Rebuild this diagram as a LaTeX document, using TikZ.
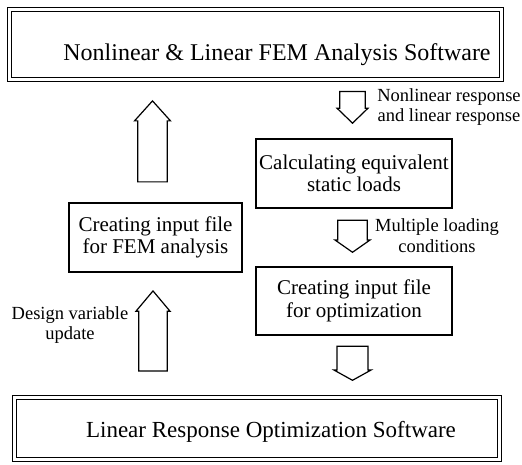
\documentclass[tikz,border=0pt]{standalone}
\usepackage{fontspec}
\setmainfont{Liberation Serif}
\usetikzlibrary{shapes.arrows}

\tikzset{
  softbox/.style={draw, double, double distance=2.4pt, line width=1.3pt, inner sep=0pt},
  stepbox/.style={draw, line width=1.3pt, align=center, inner sep=0pt,
    font=\fontsize{21}{22.5}\selectfont},
  note/.style={align=center, font=\fontsize{18.5}{20.5}\selectfont},
  blockarrow/.style={single arrow, draw, line width=1.2pt, inner sep=#1,
    single arrow head extend=2pt, anchor=tip},
  blockarrow/.default=9pt
}

\begin{document}
\begin{tikzpicture}[x=1pt,y=-1pt]
    \useasboundingbox (0,0) rectangle (522,465);

    % Riquadri dei software
    \node[softbox, minimum width=492pt, minimum height=70pt, text height=36pt, text depth=3pt,
      font=\fontsize{24}{28}\selectfont] (fem) at (255.5,44.5)
      {\hspace*{43pt}Nonlinear \& Linear FEM Analysis Software};
    \node[softbox, minimum width=485pt, minimum height=62pt, text height=20pt, text depth=1.6pt,
      font=\fontsize{23}{27}\selectfont] (lro) at (257,428.5)
      {\hspace*{28pt}Linear Response Optimization Software};

    % Passi intermedi
    \node[stepbox, minimum width=196pt, minimum height=69pt] (esl) at (354,173.5) {Calculating equivalent\\static loads};
    \node[stepbox, minimum width=173pt, minimum height=69pt] (feminput) at (155.5,237.5) {Creating input file\\for FEM analysis};
    \node[stepbox, minimum width=196pt, minimum height=68pt] (optinput) at (354,301) {Creating input file\\for optimization};

    % Frecce a blocco (posizionate sulla punta)
    \node[blockarrow=8.5pt, minimum height=81pt, minimum width=36pt, single arrow tip angle=84,
      shape border rotate=90] (upfem) at (152.5,100) {};
    \node[blockarrow=9.5pt, minimum height=80pt, minimum width=34pt, single arrow tip angle=80,
      shape border rotate=90] (upvar) at (153,290) {};
    \node[blockarrow=9pt, minimum height=30pt, minimum width=31pt, single arrow tip angle=92,
      shape border rotate=270] (downresp) at (352.5,124) {};
    \node[blockarrow=10pt, minimum height=32pt, minimum width=35pt, single arrow tip angle=110,
      shape border rotate=270] (download) at (352.5,253) {};
    \node[blockarrow=9.5pt, minimum height=34pt, minimum width=37pt, single arrow tip angle=122,
      shape border rotate=270] (downopt) at (352.5,381) {};

    % Etichette delle frecce
    \node[note] (resp) at (449,107) {Nonlinear response\\and linear response};
    \node[note] (loads) at (437,235.5) {Multiple loading\\conditions};
    \node[note] (update) at (70,325) {Design variable\\update}; % a sinistra della freccia
\end{tikzpicture}
\end{document}
